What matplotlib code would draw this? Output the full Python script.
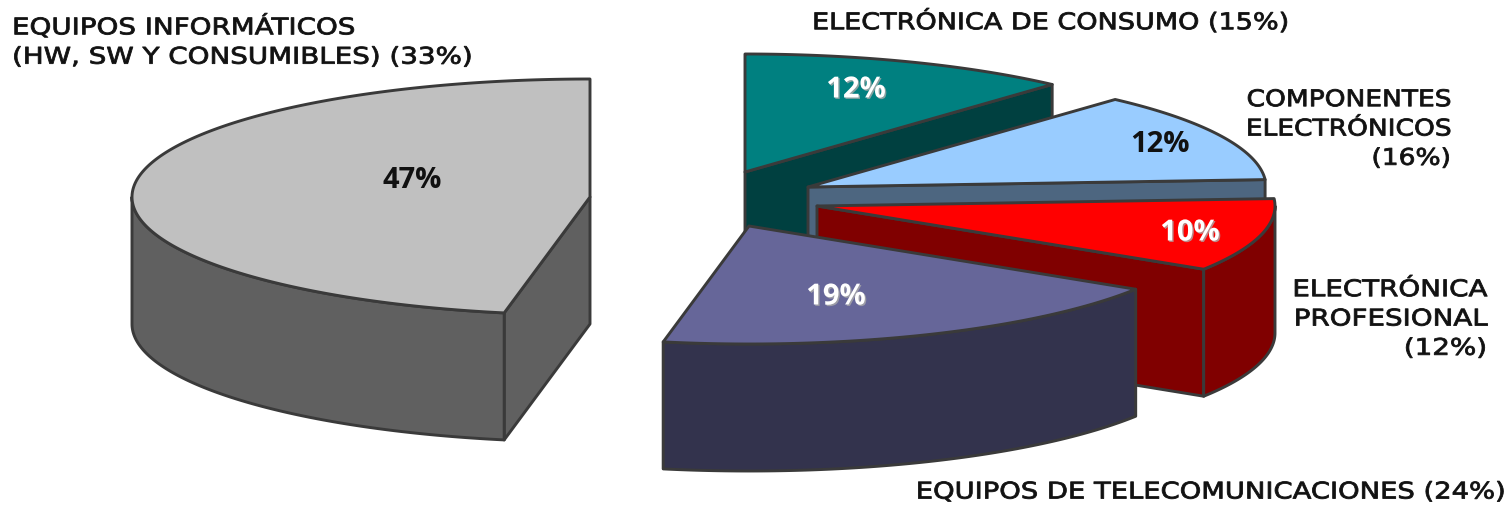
import numpy as np
import matplotlib
matplotlib.use("Agg")
import matplotlib.pyplot as plt
import matplotlib.patheffects as pe
from matplotlib.transforms import Affine2D

# slice shares, counter-clockwise from 12 o'clock
shares = [47, 19, 10, 12.3, 11.7]
share_labels = ["47%", "19%", "10%", "12%", "12%"]

# layout in image pixels
centers = [(590, 198), (749, 227), (817, 207), (808, 188), (745, 173)]
RX, RY, DEPTH = 458, 118, 127
top_colors = ["#C0C0C0", "#666699", "#FF0000", "#99CCFF", "#008080"]
side_colors = ["#606060", "#33334D", "#800000", "#4D6680", "#004040"]
label_pos = [(412, 180), (836, 298), (1190, 234), (1160, 144), (856, 91)]
label_colors = ["#111111", "white", "white", "#111111", "white"]
draw_order = [0, 4, 3, 2, 1]

# text, anchor x, centre y, alignment, horizontal stretch
outer_labels = [
    ("EQUIPOS INFORMÁTICOS\n(HW, SW Y CONSUMIBLES) (33%)", 12, 43, "left", 1.21),
    ("ELECTRÓNICA DE CONSUMO (15%)", 1288, 23, "right", 1.18),
    ("COMPONENTES\nELECTRÓNICOS\n(16%)", 1451, 130, "right", 1.155),
    ("ELECTRÓNICA\nPROFESIONAL\n(12%)", 1487, 320, "right", 1.21),
    ("EQUIPOS DE TELECOMUNICACIONES (24%)", 1504, 493, "right", 1.195),
]

EDGE = "#3A3A3A"
LW = 2.1


class StretchX(pe.AbstractPathEffect):
    # the reference text is a stretched bitmap, widen glyphs about the anchor
    def __init__(self, anchor, sx, lw=0.6):
        super().__init__()
        self.anchor, self.sx, self.lw = anchor, sx, lw

    def draw_path(self, renderer, gc, tpath, affine, rgbFace=None):
        aff = affine + Affine2D().translate(-self.anchor, 0).scale(self.sx, 1).translate(self.anchor, 0)
        gc0 = renderer.new_gc()
        gc0.copy_properties(gc)
        gc0.set_linewidth(self.lw)
        gc0.set_foreground(rgbFace)
        renderer.draw_path(gc0, tpath, aff, rgbFace)
        gc0.restore()


def rim(center, a0, a1, dy=0):
    t = np.radians(np.linspace(a0, a1, 200))
    return np.column_stack([center[0] + RX * np.cos(t), center[1] - RY * np.sin(t) + dy])


def poly(ax, pts, color):
    ax.fill(pts[:, 0], pts[:, 1], facecolor=color, edgecolor=EDGE, linewidth=LW, joinstyle="round")


def draw_slice(ax, i, a0, a1):
    c = centers[i]
    # flat cut faces, only those turned to the viewer
    for ang, normal in ((a0, a0 - 90), (a1, a1 + 90)):
        if np.sin(np.radians(normal)) < -1e-6:
            p = rim(c, ang, ang)[:1]
            face = np.array([c, p[0], p[0] + [0, DEPTH], [c[0], c[1] + DEPTH]])
            poly(ax, face, side_colors[i])
    # curved wall, front half only
    lo, hi = max(a0, 180), min(a1, 360)
    if hi > lo:
        upper = rim(c, lo, hi)
        lower = rim(c, hi, lo, DEPTH)
        poly(ax, np.vstack([upper, lower]), side_colors[i])
    top = np.vstack([[c], rim(c, a0, a1)])
    poly(ax, top, top_colors[i])


fig = plt.figure(figsize=(15.08, 5.06), dpi=100)
ax = fig.add_axes([0, 0, 1, 1])
ax.set_xlim(0, 1508)
ax.set_ylim(506, 0)
ax.axis("off")

edges = 90 + np.cumsum([0] + shares) * 3.6
for i in draw_order:
    draw_slice(ax, i, edges[i], edges[i + 1])

for i, txt in enumerate(share_labels):
    effects = []
    if label_colors[i] == "white":
        effects = [pe.withSimplePatchShadow(offset=(1.0, -1.0), shadow_rgbFace="#AAAAAA", alpha=0.8)]
    ax.text(label_pos[i][0], label_pos[i][1], txt, color=label_colors[i], fontsize=21,
            family="Open Sans", weight="bold", ha="center", va="center", path_effects=effects)

for txt, x, y, ha, sx in outer_labels:
    ax.text(x, y, txt, fontsize=16.5, family="DejaVu Sans", color="#111111", ha=ha, va="center",
            linespacing=1.35, multialignment=ha, path_effects=[StretchX(x, sx)])

fig.savefig("out.png", dpi=100)
